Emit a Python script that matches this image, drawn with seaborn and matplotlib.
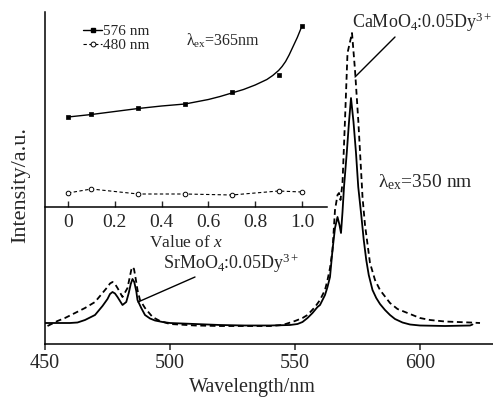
import numpy as np
import pandas as pd
import matplotlib
matplotlib.use("Agg")
import matplotlib.pyplot as plt
from matplotlib.lines import Line2D
import seaborn as sns

# ---------------- data ----------------
# SrMoO4:0.05Dy3+ (solid)
sr_wl = [450, 455, 460, 463, 466, 470, 473, 475, 476, 477, 478, 479, 481, 482.5, 483.5, 484.3, 485,
         485.7, 486.5, 487, 488.5, 490, 492, 494, 497, 500, 510, 520, 530, 540, 548, 551, 553, 555,
         557, 559, 560, 561, 562, 563, 564, 565, 566, 567, 567.8, 568.4, 569, 569.6, 570.7, 571.6,
         572.4, 573.4, 574.4, 575.3, 576.5, 577.5, 578.5, 579.5, 581, 582.5, 584, 586, 588,
         590, 593, 596, 600, 610, 620, 621]
sr_py = [323, 323, 323, 322.5, 320, 315, 306, 299, 294, 292, 293.5, 297, 305, 302, 293, 284, 279,
         282, 291, 300, 308, 315, 318.5, 320.5, 322, 323, 324, 325, 325.5, 325.5, 325, 324, 322, 318,
         313, 307, 305, 300, 295, 287, 277, 250, 228, 217, 225, 233, 212, 187, 153, 122,
         98, 122, 153, 187, 215, 240, 260, 275, 290, 298, 304, 310, 315,
         319, 322.5, 324.5, 325.5, 326, 325.5, 324.5]
# CaMoO4:0.05Dy3+ (dashed)
ca_wl = [451, 455, 458, 462, 466, 470, 473, 475, 476, 477, 478, 479, 481, 483, 484, 484.5, 485,
         485.6, 486.3, 487, 488, 490, 493, 496, 500, 510, 520, 530, 540, 545, 550, 553, 555, 558,
         560, 562, 563, 564, 565, 566, 567, 567.6, 568.2, 569, 570, 571, 572.8, 574, 575.3, 576.7,
         577, 578, 580, 582, 584, 588, 591, 595, 600, 604, 610, 615, 620, 624]
ca_py = [326, 321, 318, 313, 308, 302, 293, 287, 283.5, 282, 284, 288, 297, 288, 276, 270, 267,
         269, 279, 290, 300, 308, 317, 321, 324, 325.5, 326, 326, 326, 325, 321, 318, 315, 307,
         300, 290, 280, 268, 250, 210, 195, 193, 200, 183, 120, 53, 33, 70, 120, 183,
         197, 225, 263, 280, 290, 303, 309, 313, 318, 320, 321.5, 322, 322.5, 323]
sr_int = [344 - v for v in sr_py]
ca_int = [344 - v for v in ca_py]

# inset: intensity vs x
x_conc = [0, 0.1, 0.3, 0.5, 0.7, 0.9, 1.0]
i576 = [90, 93, 99, 103, 115, 132, 181]
i480 = [14, 18, 13, 13, 12, 16, 15]
# fitted curve through 576 nm points
fit_x = [0, 0.1, 0.2, 0.3, 0.4, 0.5, 0.6, 0.65, 0.7, 0.75, 0.8, 0.85, 0.875, 0.9, 0.915,
         0.93, 0.945, 0.96, 0.98, 1.0]
fit_py = [117, 114.5, 111.5, 108.5, 106, 104, 99.5, 96.5, 93, 89.5, 85, 79.5, 75.5, 70.5, 66.5,
          61.5, 55, 47.5, 37.5, 26]
fit_y = [207 - v for v in fit_py]

xticks_main = [450, 500, 550, 600]
xticks_inset = [0, 0.2, 0.4, 0.6, 0.8, 1.0]
xticklabels_inset = ["0", "0.2", "0.4", "0.6", "0.8", "1.0"]

# ---------------- style ----------------
sns.set_theme(style="white")
plt.rcParams["font.family"] = ["Liberation Serif", "DejaVu Serif"]
plt.rcParams["mathtext.fontset"] = "custom"
plt.rcParams["mathtext.rm"] = "Liberation Serif"
plt.rcParams["mathtext.it"] = "Liberation Serif:italic"
plt.rcParams["axes.linewidth"] = 1.1

W, H = 493, 398
fig = plt.figure(figsize=(W / 100, H / 100), dpi=100)

def frac(l, t, r, b):
    return [l / W, (H - b) / H, (r - l) / W, (b - t) / H]

ax = fig.add_axes(frac(45, 12, 493, 344))
df_sr = pd.DataFrame({"wl": sr_wl, "I": sr_int})
df_ca = pd.DataFrame({"wl": ca_wl, "I": ca_int})
sns.lineplot(data=df_sr, x="wl", y="I", ax=ax, color="black", lw=1.3, sort=False)
sns.lineplot(data=df_ca, x="wl", y="I", ax=ax, color="black", lw=1.3, sort=False)
ax.lines[-1].set_dashes((3.2, 2.0))
ax.set_xlim(450, 629.2)
ax.set_ylim(0, 332)
ax.set_xticks(xticks_main)
ax.set_xticklabels([str(t) for t in xticks_main], fontsize=14.5)
ax.set_yticks([])
ax.tick_params(axis="x", direction="out", length=4, width=1.1, pad=3, bottom=True)
for s in ["top", "right"]:
    ax.spines[s].set_visible(False)
for s in ["left", "bottom"]:
    ax.spines[s].set_color("black")
ax.set_xlabel("Wavelength/nm", fontsize=14.5)
ax.xaxis.set_label_coords(0.462, -0.103)
ax.set_ylabel("Intensity/a.u.", fontsize=16)
ax.yaxis.set_label_coords(-0.034, 0.479)

ax.text(572.8, 316, r"CaMoO$_4$:0.05Dy$^{3+}$", fontsize=13, va="baseline", ha="left")
ax.plot([590, 574], [307, 267], color="black", lw=1.0)
ax.text(497.2, 75, r"SrMoO$_4$:0.05Dy$^{3+}$", fontsize=13, va="baseline", ha="left")
ax.plot([510, 487.2], [67, 42], color="black", lw=1.0)
ax.text(583.2, 157, r"λ$_{\rm ex}$=350 nm", fontsize=14, va="baseline", ha="left")

# ---------------- inset ----------------
axi = fig.add_axes(frac(45, 12, 327, 207))
axi.patch.set_alpha(0)
sns.lineplot(x=fit_x, y=fit_y, ax=axi, color="black", lw=1.0, sort=False)
sns.scatterplot(x=x_conc, y=i576, ax=axi, color="black", marker="s", s=11,
                edgecolor="black", linewidth=0.5, zorder=3)
sns.lineplot(x=x_conc, y=i480, ax=axi, color="black", lw=0.8, sort=False)
axi.lines[-1].set_dashes((3, 2.2))
sns.scatterplot(x=x_conc, y=i480, ax=axi, marker="o", s=11, facecolor="white",
                edgecolor="black", linewidth=0.7, zorder=3)
axi.set_xlim(-0.0983, 1.107)
axi.set_ylim(0, 195)
axi.set_xticks(xticks_inset)
axi.set_xticklabels(xticklabels_inset, fontsize=14)
axi.set_yticks([])
axi.tick_params(axis="x", direction="in", length=4, width=1.0, pad=5, bottom=True)
for s in ["top", "right", "left"]:
    axi.spines[s].set_visible(False)
axi.spines["bottom"].set_color("black")
axi.set_xlabel(r"Value of $x$", fontsize=12.5, labelpad=3)
axi.text(0.504, 161, r"λ$_{\rm ex}$=365nm", fontsize=11.5, va="baseline", ha="left")

handles = [Line2D([], [], color="black", lw=1.0, marker="s", markersize=3.5),
           Line2D([], [], color="black", lw=0.8, ls=(0, (3, 2.2)), marker="o",
                  markersize=3.5, markerfacecolor="white", markeredgewidth=0.7)]
leg = axi.legend(handles, ["576 nm", "480 nm"], loc="upper left",
                 bbox_to_anchor=(0.09, 1.0), frameon=False, fontsize=11,
                 handlelength=1.3, handletextpad=0.05, labelspacing=0.05,
                 borderpad=0.3)

fig.savefig("out.png", dpi=100)
